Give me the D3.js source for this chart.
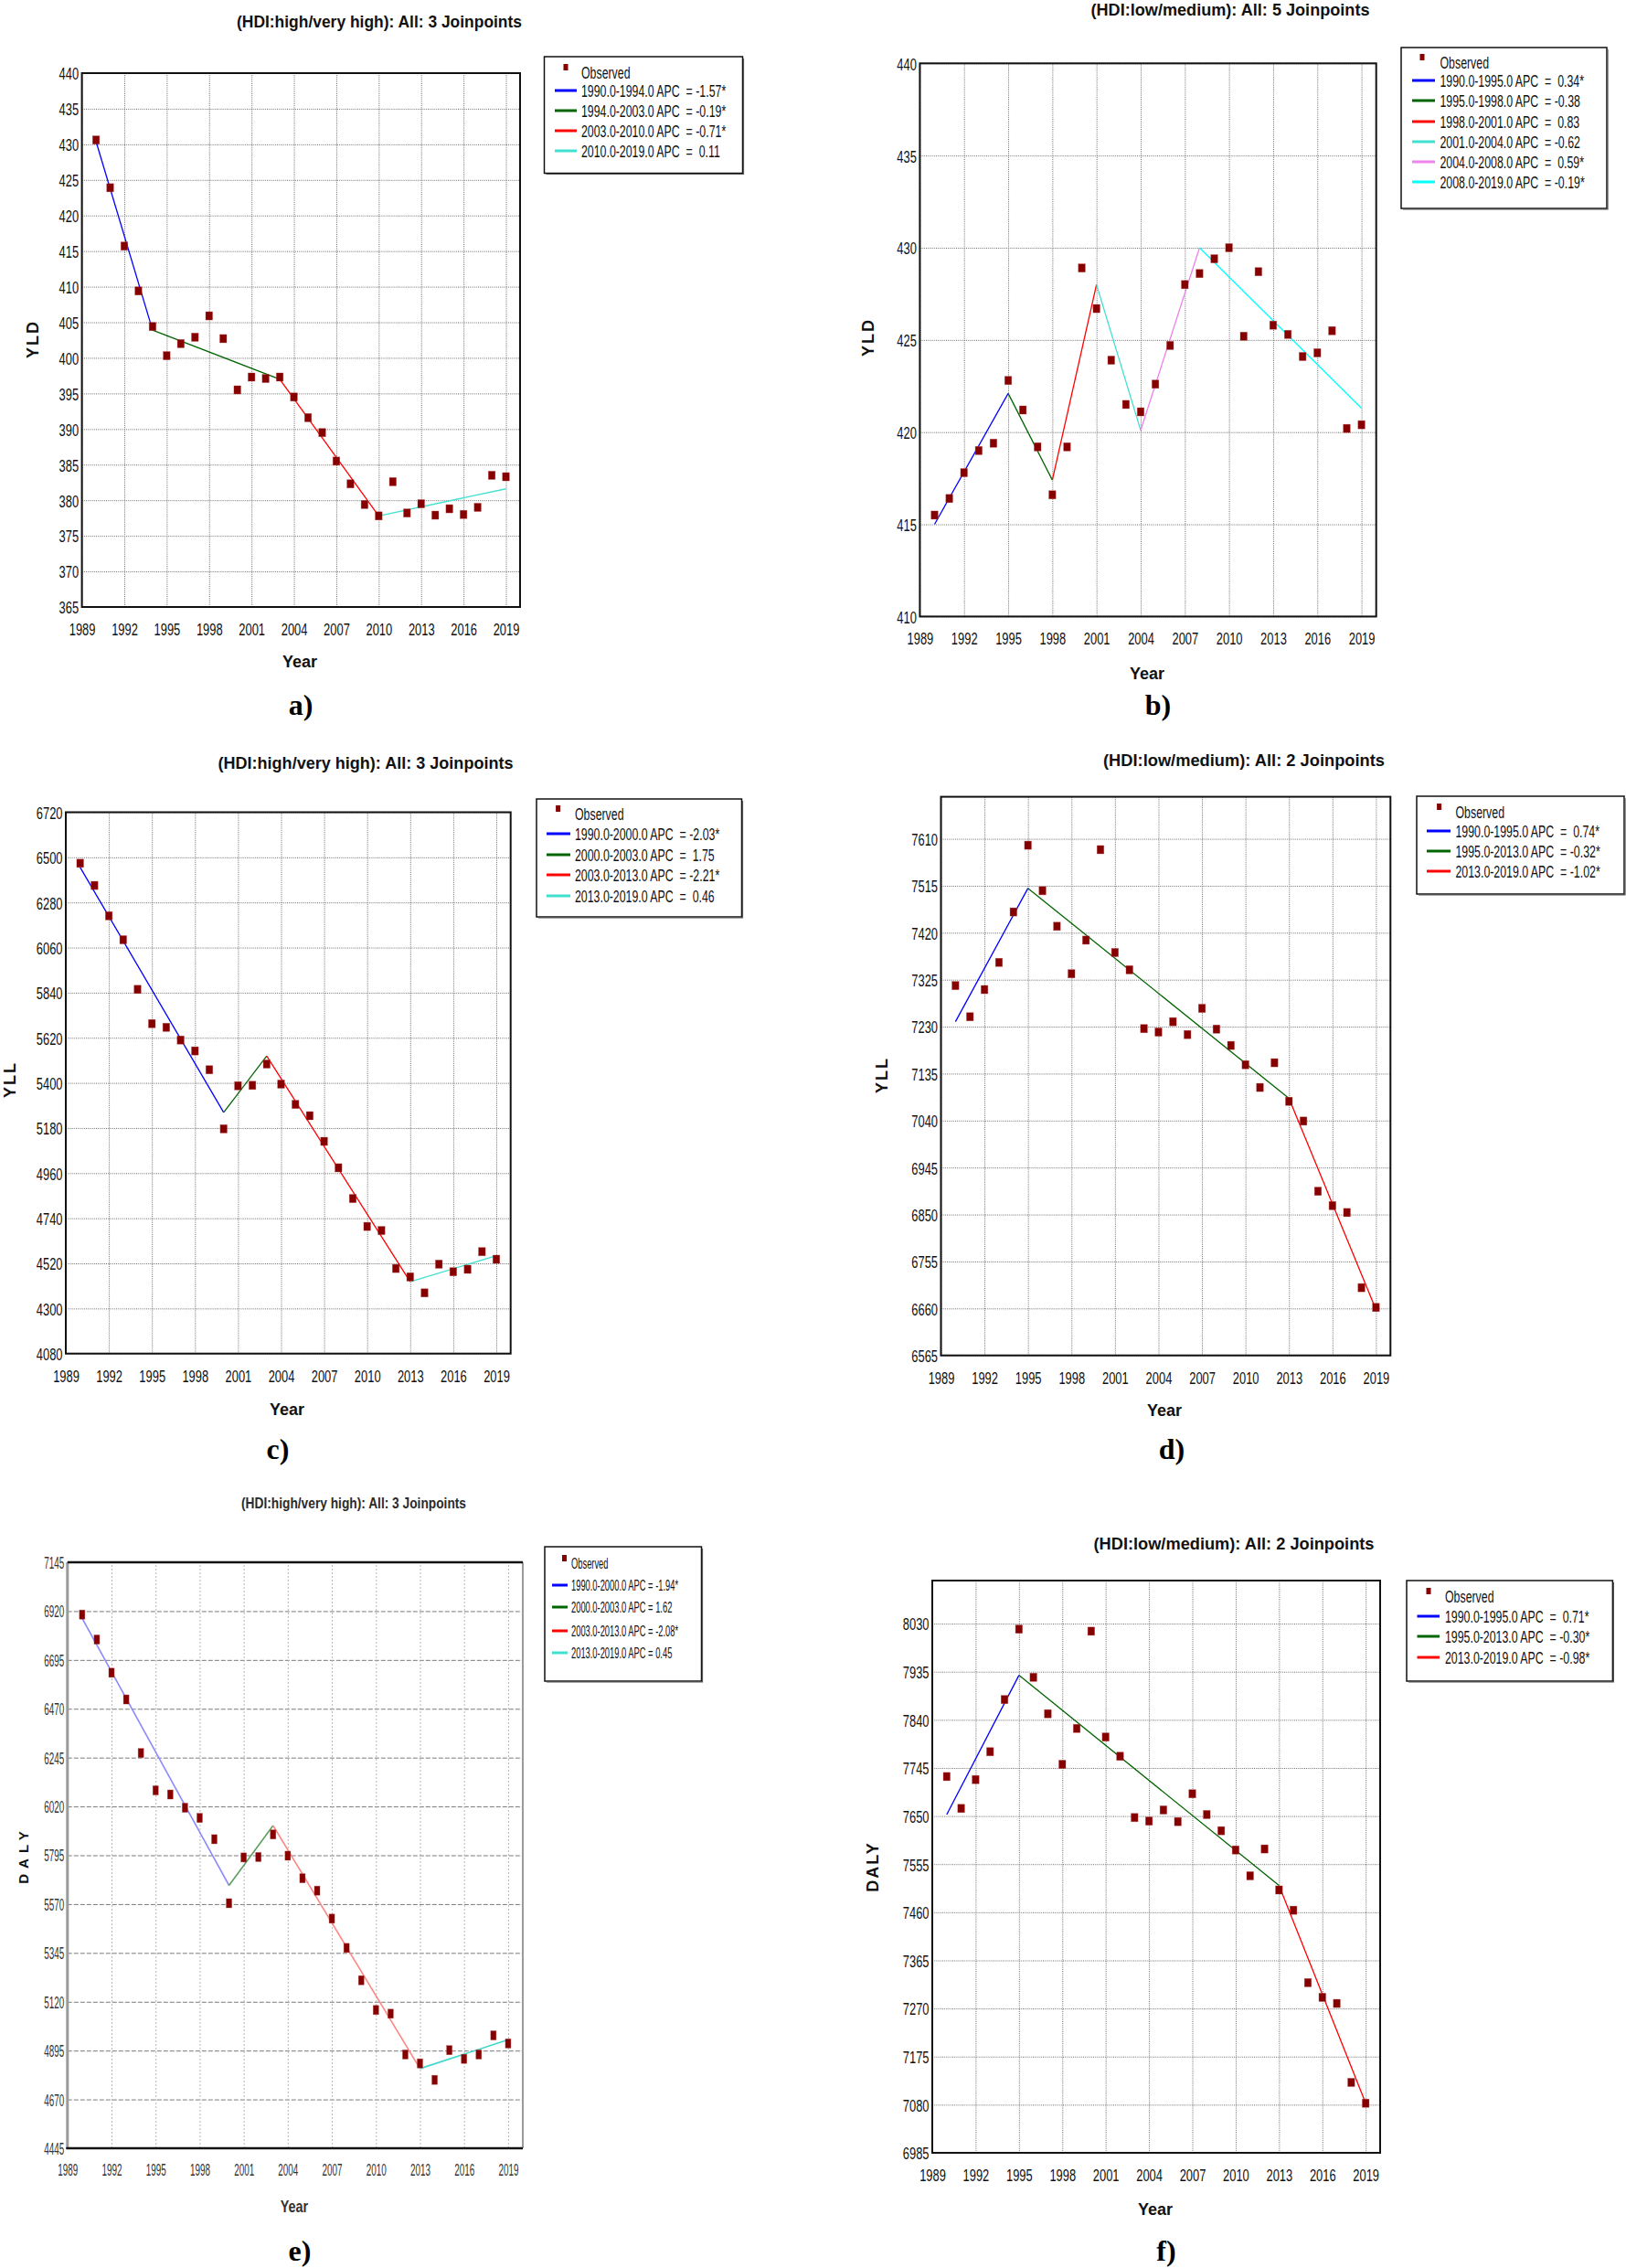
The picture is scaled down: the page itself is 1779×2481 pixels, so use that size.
<!DOCTYPE html>
<html><head><meta charset="utf-8">
<script src="https://cdn.jsdelivr.net/npm/d3@7"></script>
<style>body{margin:0;background:#fff}svg{display:block}text{white-space:pre}</style>
</head><body>
<svg id="fig" width="1779" height="2481"></svg>
<script>
// ---------------- DATA ----------------
const years = [1990,1991,1992,1993,1994,1995,1996,1997,1998,1999,2000,2001,2002,2003,2004,2005,2006,2007,2008,2009,2010,2011,2012,2013,2014,2015,2016,2017,2018,2019];
const xTicks = [1989,1992,1995,1998,2001,2004,2007,2010,2013,2016,2019];

// a) YLD, HDI high / very high
const yldHighObs = [430.6,423.9,415.7,409.4,404.4,400.3,402.0,402.9,405.9,402.7,395.5,397.3,397.1,397.3,394.5,391.6,389.5,385.5,382.3,379.4,377.8,382.6,378.2,379.5,377.9,378.8,378.0,379.0,383.5,383.3];
const yldHighJoin = [1990,1994,2003,2010,2019];
const yldHighFit = [430.4,403.9,397.0,377.8,381.6];
const yldHighApc = ["-1.57*","-0.19*","-0.71*"," 0.11"];
const yldHighTicks = [365,370,375,380,385,390,395,400,405,410,415,420,425,430,435,440];

// b) YLD, HDI low / medium
const yldLowObs = [415.5,416.4,417.8,419.0,419.4,422.8,421.2,419.2,416.6,419.2,428.9,426.7,423.9,421.5,421.1,422.6,424.7,428.0,428.6,429.4,430.0,425.2,428.7,425.8,425.3,424.1,424.3,425.5,420.2,420.4];
const yldLowJoin = [1990,1995,1998,2001,2004,2008,2019];
const yldLowFit = [415.0,422.1,417.4,428.0,420.1,430.0,421.3];
const yldLowApc = [" 0.34*","-0.38"," 0.83","-0.62"," 0.59*","-0.19*"];
const yldLowTicks = [410,415,420,425,430,435,440];

// c) YLL, HDI high / very high
const yllHighObs = [6471,6363,6215,6098,5856,5689,5671,5609,5556,5464,5176,5386,5388,5492,5394,5295,5240,5115,4986,4836,4700,4680,4495,4454,4376,4516,4479,4491,4577,4540];
const yllHighJoin = [1990,2000,2003,2013,2019];
const yllHighFit = [6451,5256,5531,4430,4557];
const yllHighApc = ["-2.03*"," 1.75","-2.21*"," 0.46"];
const yllHighTicks = [4080,4300,4520,4740,4960,5180,5400,5620,5840,6060,6280,6500,6720];

// d) YLL, HDI low / medium
const yllLowObs = [7313,7250,7305,7360,7462,7597,7505,7433,7337,7405,7588,7380,7345,7226,7219,7240,7214,7267,7225,7192,7153,7107,7157,7079,7039,6897,6868,6854,6702,6662];
const yllLowJoin = [1990,1995,2013,2019];
const yllLowFit = [7240,7510,7085,6658];
const yllLowApc = [" 0.74*","-0.32*","-1.02*"];
const yllLowTicks = [6565,6660,6755,6850,6945,7040,7135,7230,7325,7420,7515,7610];

// e) DALY, HDI high / very high
const dalyHighObs = [6904,6789,6636,6513,6266,6094,6075,6014,5967,5869,5574,5785,5787,5891,5793,5689,5632,5503,5368,5219,5082,5065,4877,4836,4760,4897,4857,4877,4965,4928];
const dalyHighJoin = [1990,2000,2003,2013,2019];
const dalyHighFit = [6887,5656,5932,4812,4945];
const dalyHighApc = ["-1.94*","1.62","-2.08*","0.45"];
const dalyHighTicks = [4445,4670,4895,5120,5345,5570,5795,6020,6245,6470,6695,6920,7145];

// f) DALY, HDI low / medium
const dalyLowObs = [7728,7665,7722,7777,7880,8019,7924,7852,7752,7823,8015,7806,7768,7647,7640,7662,7639,7694,7653,7621,7583,7532,7585,7504,7464,7321,7292,7280,7124,7083];
const dalyLowJoin = [1990,1995,2013,2019];
const dalyLowFit = [7653,7928,7513,7083];
const dalyLowApc = [" 0.71*","-0.30*","-0.98*"];
const dalyLowTicks = [6985,7080,7175,7270,7365,7460,7555,7650,7745,7840,7935,8030];

const titleHigh = "(HDI:high/very high): All: 3 Joinpoints";
const titleLow5 = "(HDI:low/medium): All: 5 Joinpoints";
const titleLow2 = "(HDI:low/medium): All: 2 Joinpoints";

// ---------------- STYLE ----------------
const SANS = "'Liberation Sans', Arial, sans-serif";
const SERIF = "'Liberation Serif', 'Times New Roman', serif";
const MARK = "#860000";
const SEG4 = ["#0000ff","#006400","#ff0000","#40e0d0"];
const SEG6 = ["#0000ff","#006400","#ff0000","#40e0d0","#ee82ee","#00ffff"];
const SEG3 = ["#0000ff","#006400","#ff0000"];
const SEG4E = ["#8a8aff","#5c9e5c","#ff8585","#40d8cc"];

const std = {tickFs:19, tickSx:0.68, legFs:19, legSx:0.65, gridH:{c:"#6e6e6e",d:"1,1.2"}, gridV:{c:"#6e6e6e",d:"1,1.2"}, mw:7.5, mh:9, lw:1.3, yearFs:18, yearSx:1, yLabFs:18, yLabLs:2, tickFill:"#111"};
const eSty = {tickFs:18, tickSx:0.55, legFs:17, legSx:0.55, gridH:{c:"#7a7a7a",d:"5,2"}, gridV:{c:"#b8b8b8",d:"2,2"}, mw:6, mh:10, lw:1.6, yearFs:18, yearSx:0.8, yLabFs:15, yLabLs:6, tickFill:"#333"};

const panels = [
 {obs:yldHighObs, join:yldHighJoin, fit:yldHighFit, apc:yldHighApc, yTicks:yldHighTicks, yDomain:[365,440], colors:SEG4, lineColors:SEG4,
  yLab:"YLD", title:titleHigh, cap:"a)", s:std,
  L:89.6, R:569, T:80, B:664, tX:415, tY:30, tW:312, yLX:36, yLY:371, yrX:328, yrY:730, cX:329, cY:782,
  leg:{x0:595.5,y0:62,x1:812.5,y1:189.5,mx:619,tx:636,lx0:607,lx1:631,rows:[79,99,121,143,165]}},
 {obs:yldLowObs, join:yldLowJoin, fit:yldLowFit, apc:yldLowApc, yTicks:yldLowTicks, yDomain:[410,440], colors:SEG6, lineColors:SEG6,
  yLab:"YLD", title:titleLow5, cap:"b)", s:std,
  L:1006.4, R:1505.7, T:69.3, B:674.4, tX:1346, tY:17, tW:305, yLX:950, yLY:369, yrX:1255, yrY:743, cX:1267, cY:782,
  leg:{x0:1533,y0:52,x1:1758,y1:228,mx:1556,tx:1575.5,lx0:1545,lx1:1570,rows:[68,88,110,133,155,177,199]}},
 {obs:yllHighObs, join:yllHighJoin, fit:yllHighFit, apc:yllHighApc, yTicks:yllHighTicks, yDomain:[4080,6720], colors:SEG4, lineColors:SEG4,
  yLab:"YLL", title:titleHigh, cap:"c)", s:std,
  L:72, R:558.7, T:888.5, B:1480.7, tX:400, tY:841, tW:323, yLX:11, yLY:1181, yrX:314, yrY:1548, cX:304, cY:1596,
  leg:{x0:587,y0:874,x1:811.5,y1:1003,mx:610.6,tx:629,lx0:598,lx1:624,rows:[890,912,935,957,980]}},
 {obs:yllLowObs, join:yllLowJoin, fit:yllLowFit, apc:yllLowApc, yTicks:yllLowTicks, yDomain:[6565,7695], colors:SEG3, lineColors:SEG3,
  yLab:"YLL", title:titleLow2, cap:"d)", s:std,
  L:1029.5, R:1521.3, T:871.6, B:1482.7, tX:1361, tY:838, tW:308, yLX:964.5, yLY:1176, yrX:1274, yrY:1549, cX:1282, cY:1596,
  leg:{x0:1550,y0:871,x1:1777,y1:978,mx:1574.6,tx:1592.5,lx0:1561,lx1:1587,rows:[888,909,931,953]}},
 {obs:dalyHighObs, join:dalyHighJoin, fit:dalyHighFit, apc:dalyHighApc, yTicks:dalyHighTicks, yDomain:[4445,7145], colors:SEG4, lineColors:SEG4E,
  yLab:"DALY", title:titleHigh, cap:"e)", s:eSty, eStyle:true,
  L:73.8, R:572, T:1709, B:2350, tX:387, tY:1650, tW:246, yLX:25, yLY:2029, yrX:322, yrY:2420, cX:328, cY:2473,
  leg:{x0:596,y0:1692,x1:767.5,y1:1839,mx:617.5,tx:625,lx0:604,lx1:621,rows:[1710,1734,1758,1784,1808]}},
 {obs:dalyLowObs, join:dalyLowJoin, fit:dalyLowFit, apc:dalyLowApc, yTicks:dalyLowTicks, yDomain:[6985,8115], colors:SEG3, lineColors:SEG3,
  yLab:"DALY", title:titleLow2, cap:"f)", s:std,
  L:1020, R:1510, T:1729, B:2355, tX:1350, tY:1695, tW:307, yLX:955, yLY:2042, yrX:1264, yrY:2423, cX:1276, cY:2473,
  leg:{x0:1539,y0:1729,x1:1764.4,y1:1839,mx:1563,tx:1581,lx0:1550.5,lx1:1575,rows:[1746,1768,1790,1813]}}
];

const svg = d3.select("#fig");
svg.append("rect").attr("width",1779).attr("height",2481).attr("fill","#fff");

function drawPanel(p) {
  const s = p.s;
  const g = svg.append("g");
  const x = d3.scaleLinear().domain([1989, 2020]).range([p.L, p.R]);
  const y = d3.scaleLinear().domain(p.yDomain).range([p.B, p.T]);
  const w = p.R - p.L, h = p.B - p.T;

  // grids
  const gh = g.append("g").attr("transform", `translate(${p.L},0)`)
    .call(d3.axisLeft(y).tickValues(p.yTicks).tickSize(-w).tickFormat(""));
  gh.select(".domain").remove();
  gh.selectAll("line").attr("stroke", s.gridH.c).attr("stroke-dasharray", s.gridH.d).attr("stroke-width", 1);
  const gv = g.append("g").attr("transform", `translate(0,${p.B})`)
    .call(d3.axisBottom(x).tickValues(xTicks).tickSize(-h).tickFormat(""));
  gv.select(".domain").remove();
  gv.selectAll("line").attr("stroke", s.gridV.c).attr("stroke-dasharray", s.gridV.d).attr("stroke-width", 1);

  // frame
  if (p.eStyle) {
    g.append("line").attr("x1",p.L).attr("x2",p.L).attr("y1",p.T).attr("y2",p.B).attr("stroke","#9a9a9a").attr("stroke-width",3);
    g.append("line").attr("x1",p.R).attr("x2",p.R).attr("y1",p.T).attr("y2",p.B).attr("stroke","#9a9a9a").attr("stroke-width",2);
    g.append("line").attr("x1",p.L).attr("x2",p.R).attr("y1",p.T).attr("y2",p.T).attr("stroke","#111").attr("stroke-width",2.5);
    g.append("line").attr("x1",p.L-1.5).attr("x2",p.R).attr("y1",p.B).attr("y2",p.B).attr("stroke","#111").attr("stroke-width",2.5);
  } else {
    g.append("rect").attr("x",p.L).attr("y",p.T).attr("width",w).attr("height",h)
      .attr("fill","none").attr("stroke","#111").attr("stroke-width",2);
  }

  // fitted joinpoint segments
  const line = d3.line().x(d => x(d[0])).y(d => y(d[1]));
  for (let i = 0; i < p.join.length - 1; i++) {
    g.append("path").datum([[p.join[i], p.fit[i]], [p.join[i+1], p.fit[i+1]]])
      .attr("d", line).attr("fill","none").attr("stroke", p.lineColors[i]).attr("stroke-width", s.lw);
  }

  // observed points
  g.append("g").selectAll("rect").data(years.map((yr,i) => [yr, p.obs[i]])).join("rect")
    .attr("x", d => x(d[0]) - s.mw/2).attr("y", d => y(d[1]) - s.mh/2)
    .attr("width", s.mw).attr("height", s.mh).attr("fill", MARK)
    .attr("stroke", "#b04040").attr("stroke-width", 0.6).attr("stroke-opacity", 0.6);

  // y axis labels
  const ay = g.append("g").attr("transform", `translate(${p.L},0)`)
    .call(d3.axisLeft(y).tickValues(p.yTicks).tickSize(0).tickFormat(d3.format("d")));
  ay.select(".domain").remove();
  ay.attr("font-family", SANS).attr("font-size", s.tickFs).attr("text-anchor","end");
  ay.selectAll("text").attr("x", null).attr("dy","0.36em").attr("fill", s.tickFill)
    .attr("transform", `translate(-3.5,0) scale(${s.tickSx},1)`);

  // x axis labels
  const ax = g.append("g").attr("transform", `translate(0,${p.B})`)
    .call(d3.axisBottom(x).tickValues(xTicks).tickSize(0).tickFormat(d3.format("d")));
  ax.select(".domain").remove();
  ax.attr("font-family", SANS).attr("font-size", s.tickFs);
  ax.selectAll(".tick text").attr("y", 24).attr("dy","0.36em").attr("x", 0).attr("fill", s.tickFill)
    .attr("transform", `scale(${s.tickSx},1)`);

  // axis titles
  g.append("text").attr("transform", `translate(${p.yrX},${p.yrY}) scale(${s.yearSx},1)`)
    .attr("text-anchor","middle").attr("font-family", SANS).attr("font-weight","bold")
    .attr("font-size", s.yearFs).attr("fill", p.eStyle ? "#333" : "#111").text("Year");
  g.append("text").attr("transform", `translate(${p.yLX},${p.yLY}) rotate(-90)`)
    .attr("text-anchor","middle").attr("dominant-baseline","central").attr("font-family", SANS)
    .attr("font-weight","bold").attr("font-size", s.yLabFs).attr("letter-spacing", s.yLabLs)
    .attr("fill","#111").text(p.yLab);

  // title
  g.append("text").attr("x", p.tX - p.tW/2).attr("y", p.tY)
    .attr("font-family", SANS).attr("font-weight", "bold").attr("font-size", p.eStyle ? 17 : 19)
    .attr("fill", p.eStyle ? "#2a2a2a" : "#111")
    .attr("textLength", p.tW).attr("lengthAdjust","spacingAndGlyphs").text(p.title);

  // legend
  const lg = p.leg;
  g.append("rect").attr("x", lg.x0).attr("y", lg.y0).attr("width", lg.x1 - lg.x0).attr("height", lg.y1 - lg.y0)
    .attr("fill","#fff").attr("stroke","#111").attr("stroke-width",1.5);
  g.append("path").attr("d", `M${lg.x0+2},${lg.y1+1} H${lg.x1+1} V${lg.y0+2}`).attr("fill","none")
    .attr("stroke","#555").attr("stroke-width",1.2);
  g.append("rect").attr("x", lg.mx - 2.5).attr("y", lg.rows[0] - 9).attr("width", 5).attr("height", 7).attr("fill", MARK);
  const legTxt = (ty, str) => g.append("text")
    .attr("transform", `translate(${lg.tx},${ty}) scale(${s.legSx},1)`)
    .attr("dy","0.36em").attr("font-family", SANS).attr("font-size", s.legFs).attr("fill","#111").text(str);
  legTxt(lg.rows[0], "Observed");
  for (let i = 0; i < p.join.length - 1; i++) {
    const ty = lg.rows[i+1];
    g.append("line").attr("x1", lg.lx0).attr("x2", lg.lx1).attr("y1", ty).attr("y2", ty)
      .attr("stroke", p.colors[i]).attr("stroke-width", 3);
    const lab = `${p.join[i].toFixed(1)}-${p.join[i+1].toFixed(1)} APC ${p.eStyle ? "" : " "}= ${p.apc[i]}`;
    legTxt(ty, lab);
  }

  // caption
  g.append("text").attr("x", p.cX).attr("y", p.cY).attr("text-anchor","middle")
    .attr("font-family", SERIF).attr("font-weight","bold").attr("font-size", 32).attr("fill","#000").text(p.cap);
}

panels.forEach(drawPanel);
</script>
</body></html>
